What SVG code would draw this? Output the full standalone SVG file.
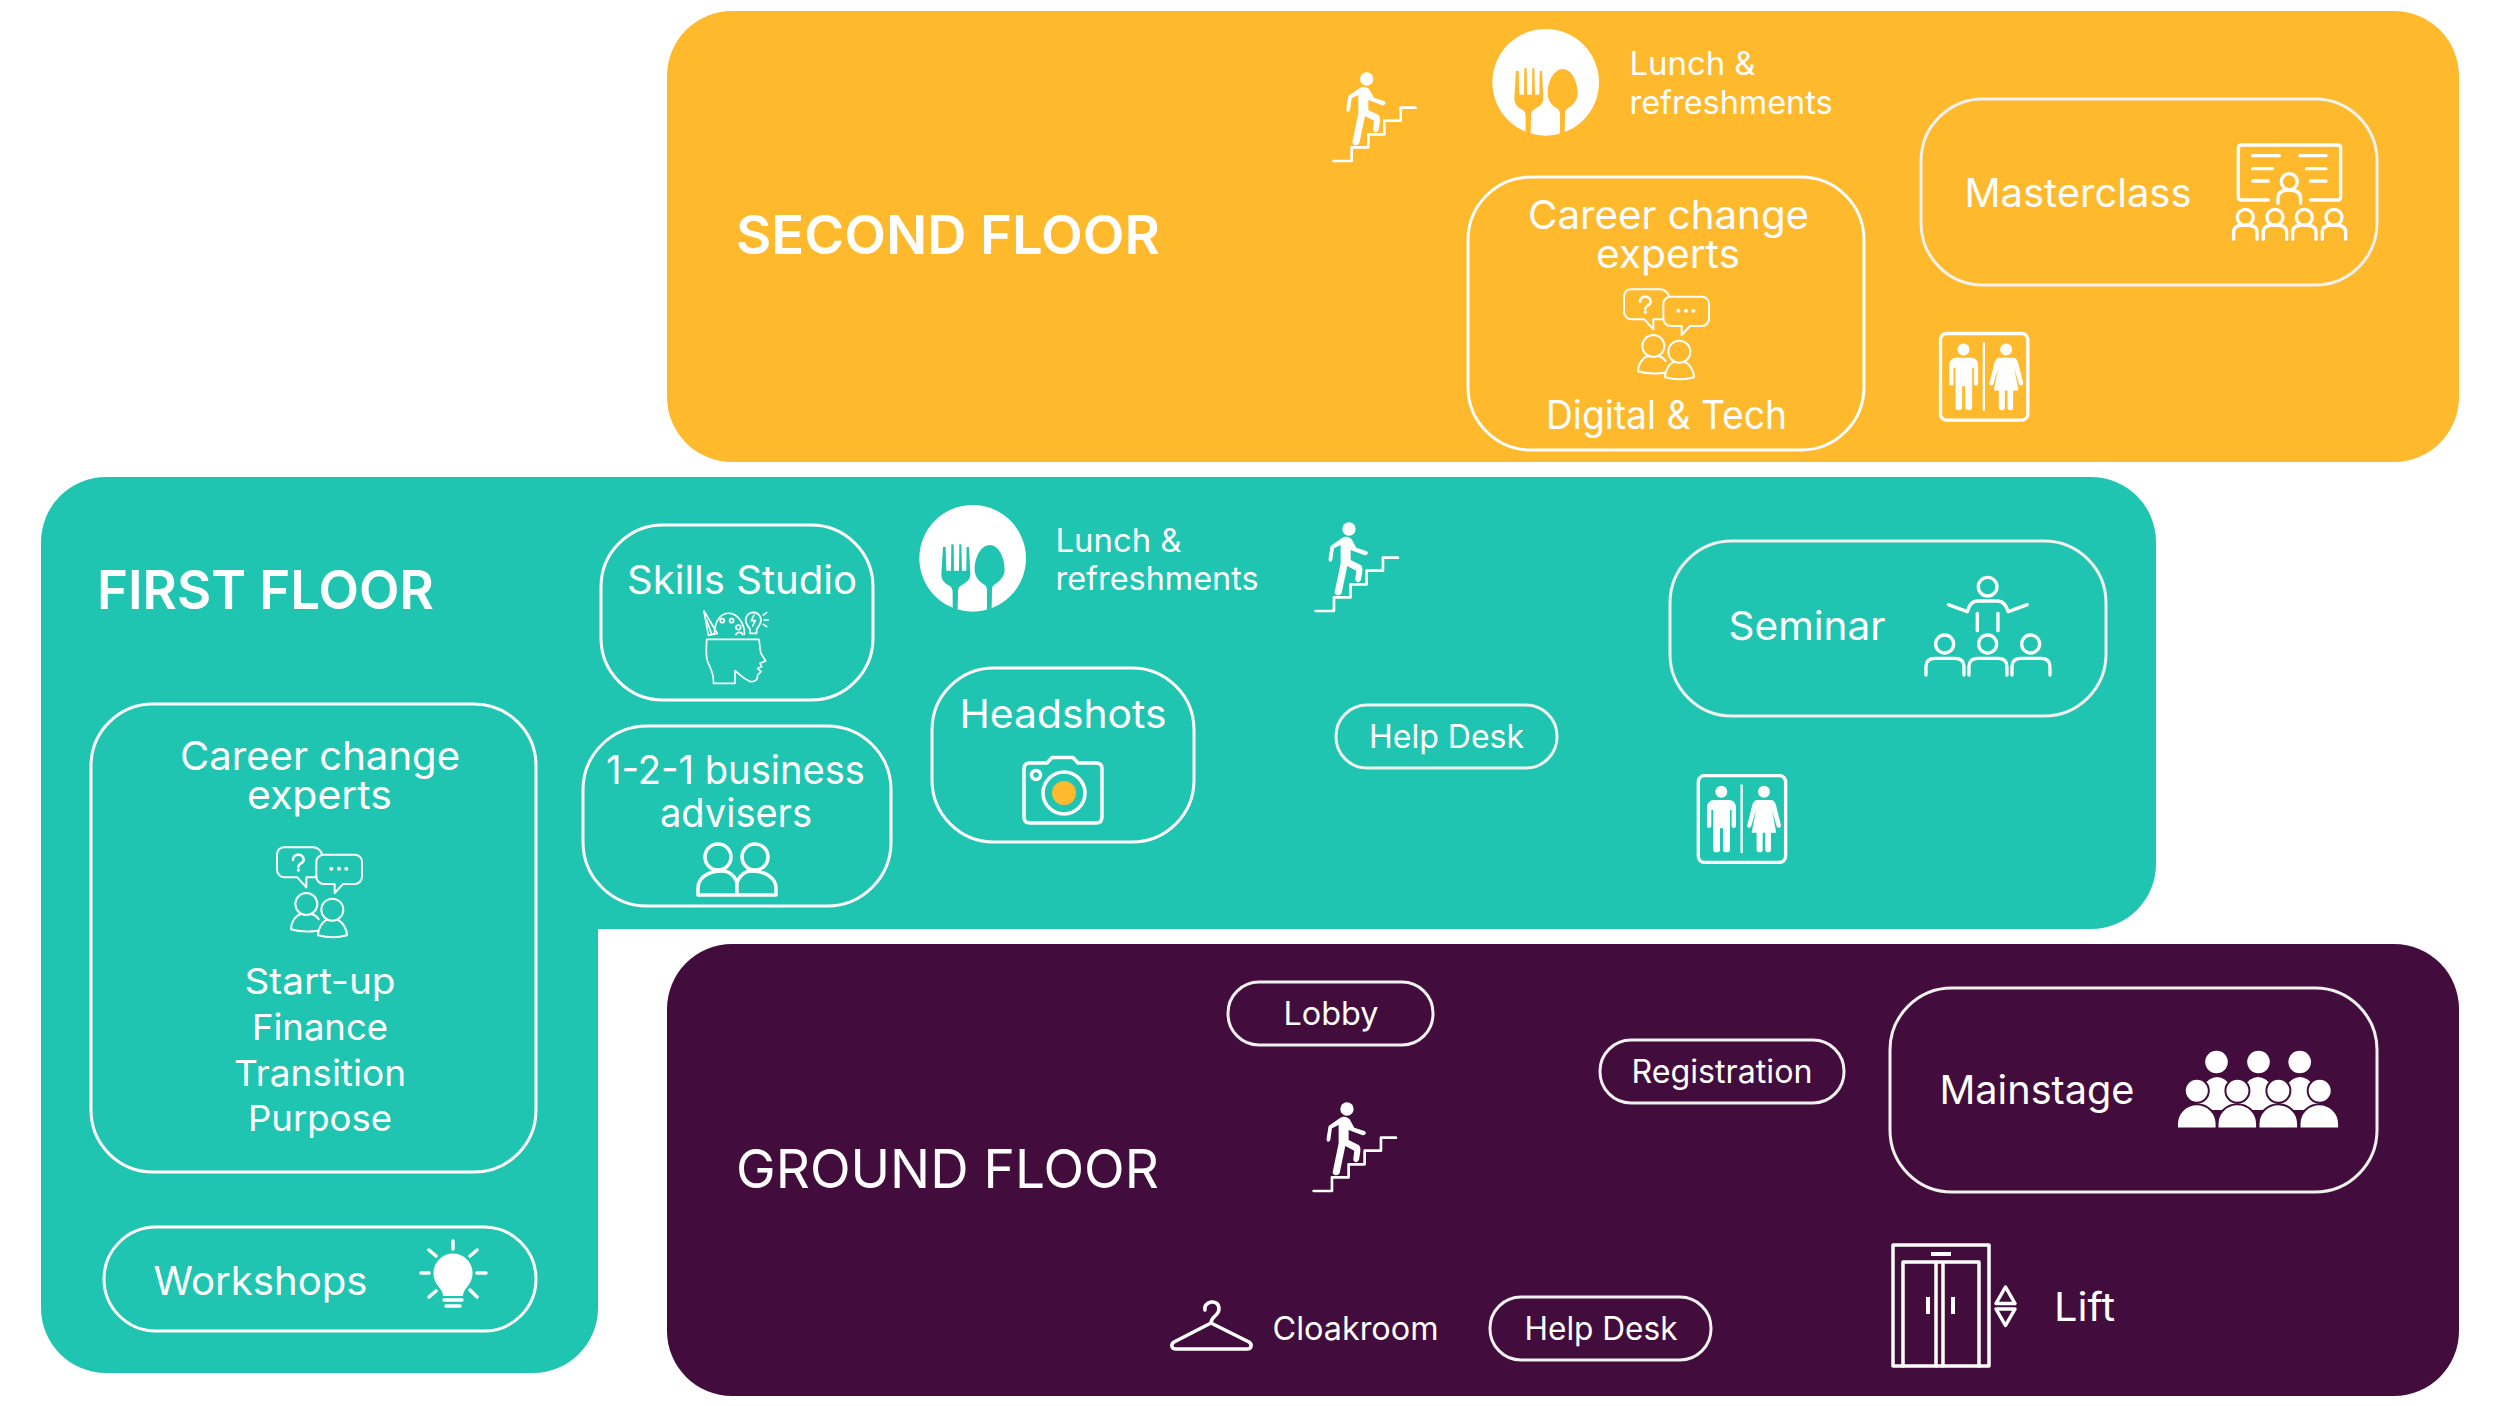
<svg xmlns="http://www.w3.org/2000/svg" width="2500" height="1406" viewBox="0 0 2500 1406">
<style>
text{font-family:"Inter","Liberation Sans",sans-serif;fill:#fff}
.l{font-size:39.5px}.s{font-size:32px}.m{font-size:36px}.h{font-size:54px;font-weight:600}.g{font-size:54px;font-weight:400}
.b{fill:none;stroke:#fff;stroke-width:3}
.th{fill:none;stroke:#f1f1ee;stroke-width:3}
.ln{fill:none;stroke:#fff;stroke-linecap:round;stroke-linejoin:round}
.w{fill:#fff}
.cut{fill:currentColor}
</style>
<defs>
<g id="stairs">
<circle class="w" cx="200" cy="87" r="20"/>
<path class="w" d="M178 115C185 108 200 108 208 118L222 143L252 153Q260 158 255 163Q250 167 245 165L213 153L205 150V180L235 195Q242 200 240 215L236 240Q232 248 225 246Q219 244 219 238L222 212L195 198L178 280Q172 288 163 285Q155 280 158 272L175 190L175 135L155 145L150 180Q147 187 142 185Q137 183 139 175L145 138Z"/>
<path class="ln" stroke-width="8" d="M100 333H155V292H205V253H253V212H302V173H347"/>
</g>
<g id="meal">
<circle class="w" cx="197" cy="187" r="160"/>
<path class="cut" d="M108 153L116 153L118 224L132 224L133 145L140 145L141 224L156 224L157 145L163 145L165 224L178 224L179 153L186 153L190 235C190 255 172 262 160 270C154 275 153 280 153 290L152 343L137 335L137 290C137 280 134 272 125 268C112 262 103 250 103 235Z"/>
<path class="cut" d="M248 147C275 147 293 185 293 220C293 245 275 258 262 266C256 270 255 275 255 285L254 335L240 345L240 285C240 275 238 270 232 266C218 258 203 245 203 220C203 185 222 147 248 147Z"/>
</g>
<g id="talk" class="ln" stroke-width="6">
<path d="M178 80C172 65 165 58 150 58H62C50 58 42 68 42 80V125C42 138 52 148 65 148H103L130 178V148H160"/>
<path d="M182 80H275C288 80 297 90 297 102V145C297 158 288 168 275 168H240L215 195V168H182C170 168 160 158 160 145V102C160 90 170 80 182 80Z"/>
<path stroke-width="8" d="M90 95C90 75 122 75 122 95C122 107 106 105 106 116"/>
<circle class="w" stroke="none" cx="106" cy="126" r="5"/>
<circle class="w" stroke="none" cx="205" cy="122" r="6"/><circle class="w" stroke="none" cx="228" cy="122" r="6"/><circle class="w" stroke="none" cx="250" cy="122" r="6"/>
<circle cx="130" cy="228" r="33"/><circle cx="208" cy="245" r="33"/>
<path d="M113 258C95 264 84 285 84 304C105 311 135 312 165 308M147 258C156 261 163 267 167 274"/>
<path d="M192 275C175 283 165 305 165 322C195 330 225 330 252 322C252 305 240 283 224 275"/>
</g>
<g id="wc">
<g transform="translate(-175,-767)">
<rect class="ln" stroke-width="10" x="175" y="767" width="262" height="260" rx="18"/>
<path class="ln" stroke-width="7" d="M305 796V996"/>
<circle class="w" cx="244" cy="815" r="18"/><circle class="w" cx="372" cy="815" r="18"/>
<path class="w" d="M222 840H268C280 840 288 850 288 862V918Q288 924 282 924Q275 924 275 918V870H270V990Q270 997 260 997Q249 997 249 990V925H240V990Q240 997 230 997Q220 997 220 990V870H214V918Q214 924 207 924Q201 924 201 918V862C201 850 210 840 222 840Z"/>
<path class="w" d="M352 840H392C402 840 406 848 408 855L423 915Q424 922 418 923Q412 924 410 918L396 870L409 938H393V990Q393 997 384 997Q376 997 376 990V938H368V990Q368 997 359 997Q350 997 350 990V938H335L348 870L334 918Q332 924 326 923Q320 922 322 915L337 855C339 848 343 840 352 840Z"/>
</g>
</g>
</defs>

<g id="second-floor">
<rect x="667" y="11" width="1792" height="451" rx="65" fill="#FFB92D"/>
<text class="h" x="736" y="254" textLength="424" lengthAdjust="spacingAndGlyphs">SECOND FLOOR</text>
</g>
<g id="first-floor">
<path fill="#20C5B2" d="M106 477H2091A65 65 0 0 1 2156 542V864A65 65 0 0 1 2091 929H598V1308A65 65 0 0 1 533 1373H106A65 65 0 0 1 41 1308V542A65 65 0 0 1 106 477Z"/>
<text class="h" x="97" y="609" textLength="337" lengthAdjust="spacingAndGlyphs">FIRST FLOOR</text>
</g>
<g id="ground-floor">
<rect x="667" y="944" width="1792" height="452" rx="65" fill="#420D3C"/>
<text class="g" x="736" y="1188" textLength="423" lengthAdjust="spacingAndGlyphs">GROUND FLOOR</text>
</g>

<g id="connectors"/>

<g id="stairs-second"><use href="#stairs" transform="translate(1300,50) scale(.3333)"/></g>
<g id="lunch-second">
<use href="#meal" color="#FFB92D" transform="translate(1480,20) scale(.3333)"/>
<text class="s" x="1629.500" y="74.500" textLength="126" lengthAdjust="spacingAndGlyphs">Lunch &amp;</text>
<text class="s" x="1629.500" y="114" textLength="203" lengthAdjust="spacingAndGlyphs">refreshments</text>
</g>
<g id="career-digital">
<rect class="b" x="1468" y="177" width="396" height="273" rx="63"/>
<text class="l" x="1528" y="228.500" textLength="281" lengthAdjust="spacingAndGlyphs">Career change</text>
<text class="l" x="1596" y="267.500" textLength="144" lengthAdjust="spacingAndGlyphs">experts</text>
<use href="#talk" transform="translate(1610,270) scale(.3333)"/>
<text class="l" x="1546" y="428.500" textLength="241" lengthAdjust="spacingAndGlyphs">Digital &amp; Tech</text>
</g>
<g id="masterclass">
<rect class="th" x="1921" y="99" width="456" height="186" rx="62"/>
<text class="l" x="1964.500" y="206.500" textLength="227" lengthAdjust="spacingAndGlyphs">Masterclass</text>
<g class="ln" stroke-width="10" transform="translate(1900,90) scale(.3333)">
<path d="M1105 330H1025Q1015 330 1015 320V175Q1015 165 1025 165H1312Q1322 165 1322 175V320Q1322 330 1312 330H1232"/>
<path d="M1058 197H1138M1058 236H1118M1058 273H1105M1200 197H1278M1220 236H1278M1232 273H1278"/>
<circle cx="1168" cy="275" r="24"/><path d="M1134 340V325Q1134 300 1168 300Q1202 300 1202 325V340"/>
<circle cx="1036" cy="382" r="24"/><path d="M1001 448V425Q1001 405 1036 405Q1071 405 1071 425V448"/>
<circle cx="1125" cy="382" r="24"/><path d="M1090 448V425Q1090 405 1125 405Q1160 405 1160 425V448"/>
<circle cx="1213" cy="382" r="24"/><path d="M1178 448V425Q1178 405 1213 405Q1248 405 1248 425V448"/>
<circle cx="1302" cy="382" r="24"/><path d="M1267 448V425Q1267 405 1302 405Q1337 405 1337 425V448"/>
</g>
</g>
<g id="wc-second"><use href="#wc" transform="translate(1940.500,333.500) scale(.3333)"/></g>

<g id="skills-studio">
<rect class="b" x="601" y="525" width="272" height="175" rx="62"/>
<text class="l" x="627" y="594" textLength="230" lengthAdjust="spacingAndGlyphs">Skills Studio</text>
<g class="ln" stroke-width="5" transform="translate(680,600) scale(.3333)">
<path d="M100 250C103 225 92 205 85 190C75 170 80 140 80 118H237C240 140 240 155 244 162L257 183L240 190L245 200L233 205L243 215L233 225C233 240 225 247 210 244C195 240 180 225 165 212V250Z"/>
<path d="M72 33L85 106L112 100ZM80 60L95 103"/>
<path d="M103 103C103 60 125 38 150 40C175 42 195 75 193 103"/>
<circle cx="127" cy="62" r="6"/><circle cx="155" cy="62" r="6"/><circle cx="175" cy="82" r="7"/>
<path d="M168 104C170 95 186 95 188 104"/>
<path d="M210 100V88C205 80 197 72 197 60A23 23 0 1 1 243 60C243 72 235 80 230 88V100Z"/>
<path d="M222 45L214 62H226L218 78M250 45L260 38M252 60H265M250 73L260 80"/>
</g>
</g>
<g id="lunch-first">
<use href="#meal" color="#20C5B2" transform="translate(907,496) scale(.3333)"/>
<text class="s" x="1055.500" y="551.500" textLength="126" lengthAdjust="spacingAndGlyphs">Lunch &amp;</text>
<text class="s" x="1055.500" y="589.500" textLength="203" lengthAdjust="spacingAndGlyphs">refreshments</text>
</g>
<g id="stairs-first"><use href="#stairs" transform="translate(1282.300,500) scale(.3333)"/></g>
<g id="seminar">
<rect class="th" x="1670" y="541" width="436" height="175" rx="62"/>
<text class="l" x="1728.500" y="640" textLength="157" lengthAdjust="spacingAndGlyphs">Seminar</text>
<g class="ln" stroke-width="10" transform="translate(1640,520) scale(.3333)">
<circle cx="1043" cy="200" r="28"/>
<path d="M925 254L982 275Q990 245 1010 243H1075Q1095 245 1105 275L1162 254M1012 280V332M1074 280V332"/>
<circle cx="914" cy="372" r="27"/><circle cx="1043" cy="372" r="27"/><circle cx="1172" cy="372" r="27"/>
<path d="M858 465V440Q858 415 885 415H945Q972 415 972 440V465M987 465V440Q987 415 1014 415H1074Q1101 415 1101 440V465M1116 465V440Q1116 415 1143 415H1203Q1230 415 1230 440V465"/>
</g>
</g>
<g id="headshots">
<rect class="b" x="932" y="668" width="262" height="174" rx="62"/>
<text class="l" x="959.500" y="728" textLength="207" lengthAdjust="spacingAndGlyphs">Headshots</text>
<g class="ln" stroke-width="3.500">
<path d="M1030 763H1047L1052 757.500H1073L1078 763H1096Q1102 763 1102 769V817Q1102 823 1096 823H1030Q1024 823 1024 817V769Q1024 763 1030 763Z"/>
<circle cx="1064" cy="793" r="21"/><circle cx="1036" cy="775" r="4.500"/>
</g>
<circle cx="1064" cy="793" r="12" fill="#FFB92D"/>
</g>
<g id="advisers">
<rect class="b" x="583" y="726" width="308" height="180" rx="64"/>
<text class="l" x="606" y="784" textLength="259" lengthAdjust="spacingAndGlyphs">1-2-1 business</text>
<text class="l" x="660" y="827" textLength="152" lengthAdjust="spacingAndGlyphs">advisers</text>
<g class="ln" stroke-width="3.500">
<circle cx="718" cy="857" r="13"/><circle cx="755" cy="857" r="13"/>
<path d="M698 895H776V888C776 878 765 871 752 871C745 871 740 875 737 882C734 875 729 871 722 871C708 871 698 878 698 888ZM737 882V895"/>
</g>
</g>
<g id="help-first">
<rect class="th" x="1336" y="705" width="221" height="63" rx="31"/>
<text class="s" x="1369" y="748" textLength="155" lengthAdjust="spacingAndGlyphs">Help Desk</text>
</g>
<g id="wc-first"><use href="#wc" transform="translate(1698.300,775.700) scale(.3333)"/></g>
<g id="career-first">
<rect class="b" x="91" y="704" width="445" height="468" rx="62"/>
<text class="l" x="180" y="770" textLength="280" lengthAdjust="spacingAndGlyphs">Career change</text>
<text class="l" x="247" y="809" textLength="145" lengthAdjust="spacingAndGlyphs">experts</text>
<use href="#talk" transform="translate(263,828) scale(.3333)"/>
<text class="m" x="244.500" y="993.500" textLength="151" lengthAdjust="spacingAndGlyphs">Start-up</text>
<text class="m" x="252" y="1039.500" textLength="136" lengthAdjust="spacingAndGlyphs">Finance</text>
<text class="m" x="234" y="1085.500" textLength="172" lengthAdjust="spacingAndGlyphs">Transition</text>
<text class="m" x="248" y="1130.500" textLength="144" lengthAdjust="spacingAndGlyphs">Purpose</text>
</g>
<g id="workshops">
<rect class="b" x="104" y="1227" width="432" height="104" rx="52"/>
<text class="l" x="153.500" y="1294.500" textLength="214" lengthAdjust="spacingAndGlyphs">Workshops</text>
<path class="w" d="M443 1296C443 1288 433 1285 433.500 1273A19.500 19.500 0 1 1 472.500 1273C473 1285 463 1288 463 1296Z"/>
<path class="ln" stroke-width="3.500" d="M453 1241V1249M421 1273H429M477 1273H486M429 1250L436 1256M477 1250L470 1256M429 1297L436 1291M477 1297L470 1290M444 1300H462M446 1306H460"/>
</g>

<g id="lobby">
<rect class="th" x="1228" y="982" width="205" height="63" rx="31"/>
<text class="s" x="1283.500" y="1025" textLength="95" lengthAdjust="spacingAndGlyphs">Lobby</text>
</g>
<g id="registration">
<rect class="th" x="1600" y="1040" width="244" height="63" rx="31"/>
<text class="s" x="1631.500" y="1083" textLength="181" lengthAdjust="spacingAndGlyphs">Registration</text>
</g>
<g id="stairs-ground"><use href="#stairs" transform="translate(1280.300,1080) scale(.3333)"/></g>
<g id="mainstage">
<rect class="th" x="1890" y="988" width="487" height="204" rx="62"/>
<text class="l" x="1939.500" y="1104" textLength="195" lengthAdjust="spacingAndGlyphs">Mainstage</text>
<g>
<circle class="w" cx="2216.500" cy="1062" r="11.300"/><circle class="w" cx="2258.500" cy="1062" r="11.300"/><circle class="w" cx="2299.700" cy="1062" r="11.300"/>
<path class="w" d="M2197 1110A20 33 0 0 1 2237 1110ZM2238 1110A20 33 0 0 1 2278 1110ZM2280 1110A20 33 0 0 1 2320 1110Z"/>
<g fill="#fff" stroke="#420D3C" stroke-width="2">
<circle cx="2196.800" cy="1090.700" r="12"/><circle cx="2237.400" cy="1090.700" r="12"/><circle cx="2278.400" cy="1090.700" r="12"/><circle cx="2319.700" cy="1090.700" r="12"/>
<path d="M2177 1128.500V1124A19.800 19.800 0 0 1 2216.600 1124V1128.500Z"/>
<path d="M2217.500 1128.500V1124A19.800 19.800 0 0 1 2257.100 1124V1128.500Z"/>
<path d="M2258.500 1128.500V1124A19.800 19.800 0 0 1 2298.100 1124V1128.500Z"/>
<path d="M2299.500 1128.500V1124A19.800 19.800 0 0 1 2339.100 1124V1128.500Z"/>
</g>
</g>
</g>
<g id="cloakroom">
<path class="ln" stroke-width="3.500" d="M1205 1310C1203 1301 1219 1298 1219 1309C1219 1316 1211 1316 1211 1323L1249 1342C1253 1345 1251 1349 1247 1349H1176C1172 1349 1170 1345 1174 1342L1211 1323"/>
<text class="s" x="1272.500" y="1339.500" textLength="166" lengthAdjust="spacingAndGlyphs">Cloakroom</text>
</g>
<g id="help-ground">
<rect class="th" x="1490" y="1297" width="221" height="63" rx="31"/>
<text class="s" x="1524.500" y="1339.500" textLength="153" lengthAdjust="spacingAndGlyphs">Help Desk</text>
</g>
<g id="lift">
<g class="ln" stroke-width="3.500">
<rect x="1893" y="1245" width="96" height="121"/>
<path d="M1903 1366V1262H1979V1366M1936 1262V1366M1943 1262V1366"/>
<path stroke-width="4" stroke-linecap="butt" d="M1931 1254H1951M1928 1297V1314M1953 1297V1314"/>
<path d="M2005.500 1287L2015 1303.500H1996ZM1996 1309H2015L2005.500 1325.500Z"/>
</g>
<text class="l" x="2054" y="1321" textLength="61" lengthAdjust="spacingAndGlyphs">Lift</text>
</g>
</svg>
